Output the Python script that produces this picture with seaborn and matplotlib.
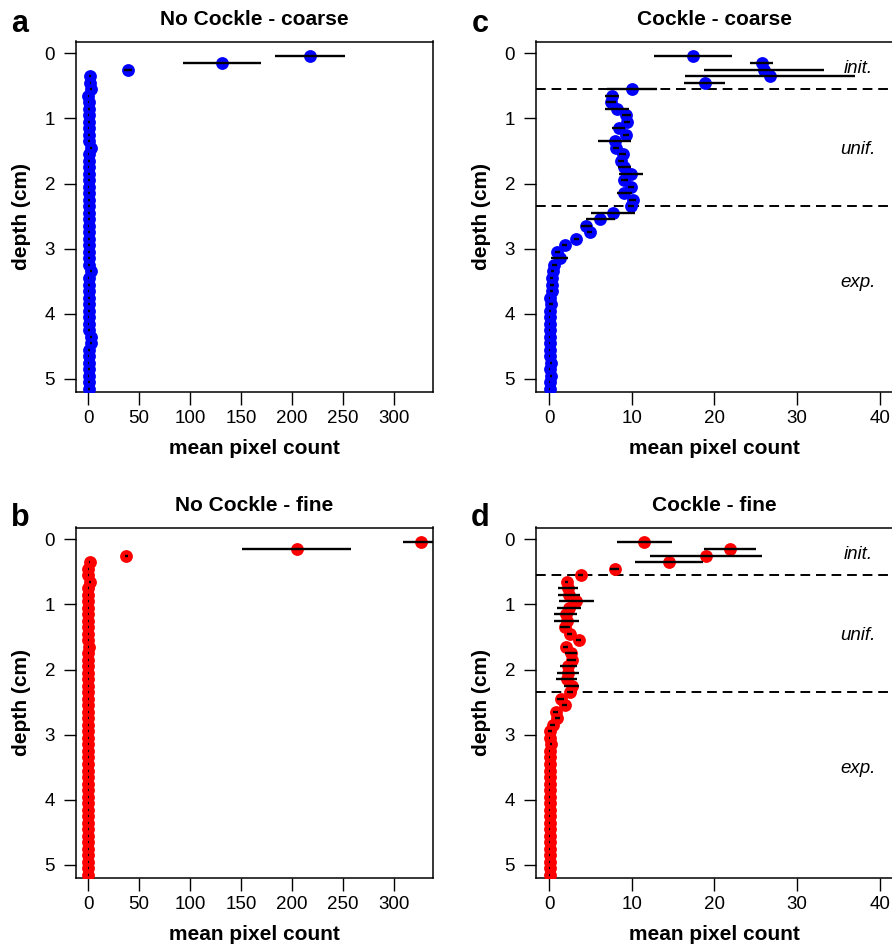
import matplotlib
matplotlib.use("Agg")

import matplotlib.pyplot as plt
import seaborn as sns
import numpy as np
import pandas as pd

# ── data ────────────────────────────────────────────
depth = [round(0.05 + 0.1 * i, 2) for i in range(52)]

# a: No Cockle - coarse
a_mean = [218.0, 131.3, 39.6, 2.2, 2.4, 2.6, 0.4, 0.6, 0.8, 0.7,
          0.8, 0.6, 0.9, 0.7, 3.0, 0.6, 0.8, 0.7, 0.9, 0.8,
          0.7, 0.9, 0.8, 1.0, 0.8, 0.9, 0.7, 0.9, 0.8, 0.9,
          0.8, 0.9, 1.0, 2.8, 0.7, 0.8, 0.6, 0.8, 0.9, 0.8,
          0.7, 0.6, 0.9, 2.9, 2.7, 0.8, 0.5, 0.7, 0.8, 0.7,
          0.8, 0.9]
a_err = [34.5, 38.0, 4.0, 0.9, 0.8, 0.9, 0.7, 0.8, 0.8, 0.7,
         0.8, 0.7, 0.8, 0.8, 0.9, 0.7, 0.8, 0.7, 0.8, 0.8,
         0.7, 0.8, 0.8, 0.8, 0.7, 0.8, 0.7, 0.8, 0.8, 0.8,
         0.8, 0.8, 0.8, 0.9, 0.7, 0.8, 0.7, 0.8, 0.8, 0.8,
         0.7, 0.7, 0.8, 0.9, 0.9, 0.8, 0.7, 0.7, 0.8, 0.7,
         0.8, 0.8]

# b: No Cockle - fine
b_mean = [327.0, 204.6, 37.3, 1.5, 0.3, 0.4, 1.9, 0.4, 0.3, 0.4,
          0.3, 0.4, 0.3, 0.4, 0.3, 0.4, 0.5, 0.3, 0.4, 0.3,
          0.4, 0.3, 0.4, 0.3, 0.4, 0.3, 0.4, 0.3, 0.4, 0.3,
          0.4, 0.3, 0.4, 0.3, 0.4, 0.3, 0.4, 0.3, 0.4, 0.3,
          0.4, 0.3, 0.4, 0.3, 0.4, 0.3, 0.4, 0.3, 0.4, 0.3,
          0.4, 0.3]
b_err = [18.0, 53.5, 1.5, 0.8, 0.7, 0.7, 0.8, 0.7, 0.7, 0.7,
         0.7, 0.7, 0.7, 0.7, 0.7, 0.7, 0.7, 0.7, 0.7, 0.7,
         0.7, 0.7, 0.7, 0.7, 0.7, 0.7, 0.7, 0.7, 0.7, 0.7,
         0.7, 0.7, 0.7, 0.7, 0.7, 0.7, 0.7, 0.7, 0.7, 0.7,
         0.7, 0.7, 0.7, 0.7, 0.7, 0.7, 0.7, 0.7, 0.7, 0.7,
         0.7, 0.7]

# c: Cockle - coarse
c_mean = [17.4, 25.7, 26.0, 26.7, 18.8, 10.0, 7.6, 7.5, 8.2, 9.3,
          9.4, 8.4, 9.3, 7.9, 8.1, 8.9, 8.7, 9.1, 9.9, 9.1,
          9.9, 9.1, 10.1, 9.9, 7.7, 6.2, 4.5, 4.9, 3.3, 1.9,
          1.0, 1.25, 0.6, 0.4, 0.3, 0.35, 0.3, 0.05, 0.2, 0.1,
          0.05, 0.05, 0.05, 0.05, 0.05, 0.05, 0.05, 0.25, 0.05, 0.25,
          0.05, 0.05]
c_err = [4.7, 1.35, 7.3, 10.3, 2.45, 3.0, 0.8, 0.6, 1.45, 0.55,
         0.4, 0.8, 0.4, 2.05, 0.4, 0.4, 0.4, 0.8, 1.5, 0.4,
         0.4, 0.9, 0.4, 0.4, 2.65, 1.8, 0.7, 0.3, 0.3, 0.3,
         0.3, 1.0, 0.3, 0.2, 0.2, 0.2, 0.2, 0.1, 0.2, 0.1,
         0.1, 0.1, 0.1, 0.1, 0.1, 0.1, 0.1, 0.1, 0.1, 0.1,
         0.1, 0.1]

# d: Cockle - fine
d_mean = [11.5, 21.9, 19.0, 14.5, 7.9, 3.8, 2.1, 2.3, 2.4, 3.3,
          2.4, 2.0, 2.1, 1.9, 2.5, 3.6, 2.0, 2.6, 2.7, 2.3,
          2.3, 2.1, 2.7, 2.5, 1.4, 1.9, 0.8, 1.0, 0.4, 0.1,
          0.05, 0.25, 0.05, 0.05, 0.05, 0.05, 0.05, 0.05, 0.05, 0.05,
          0.05, 0.05, 0.05, 0.05, 0.05, 0.05, 0.05, 0.05, 0.05, 0.05,
          0.05, 0.05]
d_err = [3.3, 3.15, 6.8, 4.1, 0.5, 0.3, 0.2, 1.2, 1.35, 2.1,
         1.45, 1.4, 1.5, 0.6, 0.3, 0.3, 0.3, 0.75, 0.6, 1.05,
         1.3, 1.25, 0.95, 0.4, 0.4, 0.3, 0.3, 0.3, 0.3, 0.2,
         0.1, 0.1, 0.1, 0.1, 0.1, 0.1, 0.1, 0.1, 0.1, 0.1,
         0.1, 0.1, 0.1, 0.1, 0.1, 0.1, 0.1, 0.1, 0.1, 0.1,
         0.1, 0.1]

layer_bounds = [0.55, 2.35]
layer_names = ["init.", "unif.", "exp."]
layer_depths = [0.23, 1.48, 3.52]

BLUE = "#0000ff"
RED = "#ff0000"

# ── theme ───────────────────────────────────────────
sns.set_style("ticks")
plt.rcParams.update({
    "font.family": ["Liberation Sans", "DejaVu Sans"],
    "axes.edgecolor": "black",
    "axes.labelcolor": "black",
    "axes.titlecolor": "black",
    "axes.linewidth": 1.1,
    "xtick.color": "black",
    "ytick.color": "black",
    "xtick.major.size": 9,
    "ytick.major.size": 9,
    "xtick.major.width": 1.0,
    "ytick.major.width": 1.0,
    "xtick.major.pad": 4,
    "ytick.major.pad": 6,
    "xtick.labelsize": 13.5,
    "ytick.labelsize": 13.5,
    "text.color": "black",
})

W, H = 892, 949
fig = plt.figure(figsize=(W / 100, H / 100), dpi=100)


def add_axes(left_px, top_px, w_px=356.5, h_px=350.5):
    return fig.add_axes([left_px / W, 1 - (top_px + h_px) / H, w_px / W, h_px / H])


def draw_panel(ax, mean, err, color, title, letter, letter_y, xlim, xticks, layers):
    df = pd.DataFrame({"depth": depth, "mean": mean, "err": err})
    sns.scatterplot(data=df, x="mean", y="depth", color=color, s=85,
                    linewidth=0, ax=ax, zorder=3)
    ax.hlines(df["depth"], df["mean"] - df["err"], df["mean"] + df["err"],
              color="black", lw=1.7, zorder=4)

    if layers:
        for yb in layer_bounds:
            ax.axhline(yb, color="black", lw=1.4, ls=(0, (5, 3)), zorder=2)
        for name, yd in zip(layer_names, layer_depths):
            ax.text(37.4, yd, name, style="italic", fontsize=13.5,
                    ha="center", va="center")

    ax.set_xlim(*xlim)
    ax.set_ylim(5.2, -0.18)
    ax.set_xticks(xticks)
    ax.set_yticks([0, 1, 2, 3, 4, 5])
    ax.tick_params(direction="out")
    ax.set_title(title, fontsize=15, fontweight="bold", pad=12)
    ax.set_xlabel("mean pixel count", fontsize=15, fontweight="bold")
    ax.set_ylabel("depth (cm)", fontsize=15, fontweight="bold")
    ax.xaxis.set_label_coords(0.5, -0.135)
    ax.yaxis.set_label_coords(-0.125, 0.5)
    ax.text(-0.157, letter_y, letter, transform=ax.transAxes, fontsize=22,
            fontweight="bold", ha="center", va="baseline")
    for s in ax.spines.values():
        s.set_visible(True)
        s.set_color("black")


ax_a = add_axes(76, 41.5)
ax_b = add_axes(76, 527.5)
ax_c = add_axes(536, 41.5, w_px=357)
ax_d = add_axes(536, 527.5, w_px=357)

coarse_ticks = [0, 50, 100, 150, 200, 250, 300]
fine_ticks = [0, 10, 20, 30, 40]

draw_panel(ax_a, a_mean, a_err, BLUE, "No Cockle - coarse", "a", 1.027,
           (-11.8, 338), coarse_ticks, False)
draw_panel(ax_b, b_mean, b_err, RED, "No Cockle - fine", "b", 1.005,
           (-11.8, 338), coarse_ticks, False)
draw_panel(ax_c, c_mean, c_err, BLUE, "Cockle - coarse", "c", 1.027,
           (-1.6, 41.6), fine_ticks, True)
draw_panel(ax_d, d_mean, d_err, RED, "Cockle - fine", "d", 1.005,
           (-1.6, 41.6), fine_ticks, True)

fig.savefig("out.png", dpi=100)
